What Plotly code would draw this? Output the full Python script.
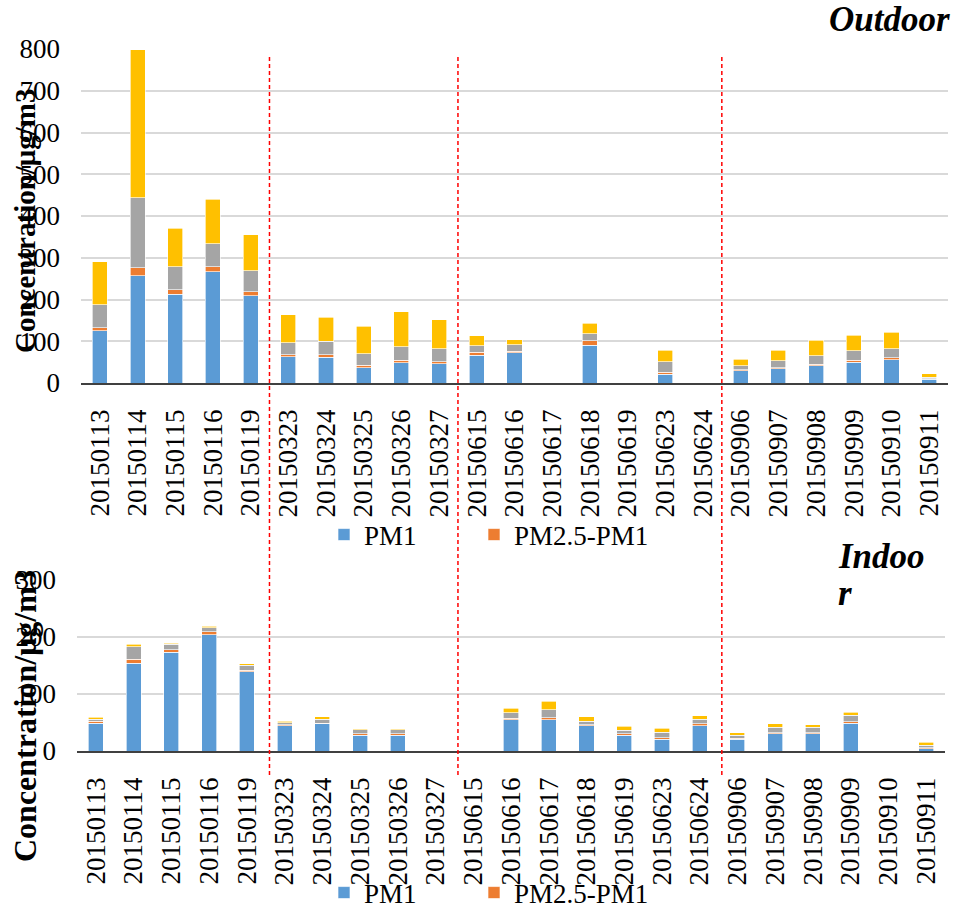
import plotly.graph_objects as go

# Sampling dates (category axis shared by both panels)
dates = ["20150113", "20150114", "20150115", "20150116", "20150119",
         "20150323", "20150324", "20150325", "20150326", "20150327",
         "20150615", "20150616", "20150617", "20150618", "20150619",
         "20150623", "20150624", "20150906", "20150907", "20150908",
         "20150909", "20150910", "20150911"]

# Outdoor size fractions, μg/m3 (None = no sample)
out_pm1 = [125, 257, 213, 266, 209, 63, 62, 36, 49, 46, 66, 72, None, 90, None,
           21, None, 29, 34, 41, 50, 56, 9]
out_pm25_pm1 = [7, 19, 10, 12, 9, 5, 6, 6, 5, 5, 8, 4, None, 11, None,
                5, None, 3, 3, 4, 4, 4, 1]
out_pm10_pm25 = [55, 168, 55, 55, 51, 28, 32, 28, 33, 31, 15, 16, None, 17, None,
                 25, None, 9, 16, 20, 23, 22, 4]
out_tsp_pm10 = [103, 354, 93, 107, 86, 67, 57, 66, 84, 70, 24, 12, None, 25, None,
                27, None, 16, 25, 37, 37, 40, 8]

# Indoor size fractions, μg/m3
in_pm1 = [49, 154, 173, 204, 139, 44, 47.5, 27.5, 28, None, None, 54.5, 54.5, 44,
          27.5, 20.5, 44.5, 20.5, 30, 30, 49, None, 4]
in_pm25_pm1 = [3, 7, 4.5, 5, 3, 2, 1.5, 3, 2, None, None, 3, 3.5, 2,
               3, 2.5, 3, 1.5, 2, 2, 2.5, None, 2]
in_pm10_pm25 = [4, 22, 10, 7, 8.5, 4, 7, 6.5, 7, None, None, 9.5, 14, 6,
                5.5, 10, 8.5, 5.5, 10, 9.5, 11.5, None, 4]
in_tsp_pm10 = [3, 4, 1.5, 2.5, 3, 2, 4, 2, 2, None, None, 8, 15, 8,
               7, 7, 6, 4.5, 6, 4.5, 5, None, 5]

# Campaign boundaries (between these category positions)
season_breaks = [4.5, 9.5, 16.5]

series_names = ["PM1", "PM2.5-PM1", "PM10-PM2.5", "TSP-PM10"]
series_colors = ["#5B9BD5", "#ED7D31", "#A5A5A5", "#FFC000"]

FONT = "Liberation Serif, Times New Roman, Tinos, DejaVu Serif, serif"
W, H = 955, 909

fig = go.Figure()

# each visible legend entry gets its own legend box so it can be placed freely
panels = [
    ([out_pm1, out_pm25_pm1, out_pm10_pm25, out_tsp_pm10], "x", "y",
     ["legend", "legend3", None, None]),
    ([in_pm1, in_pm25_pm1, in_pm10_pm25, in_tsp_pm10], "x2", "y2",
     ["legend2", "legend4", None, None]),
]
for values, xa, ya, legends in panels:
    for name, color, vals, lg in zip(series_names, series_colors, values, legends):
        fig.add_trace(go.Bar(
            x=dates, y=vals, name=name, xaxis=xa, yaxis=ya,
            legend=lg if lg else "legend",
            marker=dict(color=color, line=dict(color="rgba(255,255,255,0.8)", width=0.8)),
            showlegend=lg is not None,
        ))

axis_font = dict(family=FONT, size=27, color="black")
grid = dict(showgrid=True, gridcolor="#D9D9D9", gridwidth=1.5, zeroline=False,
            tickfont=axis_font, ticks="", ticklabelstandoff=20, automargin=False)
xcommon = dict(type="category", tickangle=-90, tickfont=axis_font, showgrid=False,
               showline=True, linecolor="#404040", linewidth=1.5, ticks="",
               ticklabelstandoff=14, automargin=False)
legend_common = dict(orientation="h", xanchor="left", yanchor="middle",
                     font=dict(family=FONT, size=27, color="black"),
                     bgcolor="rgba(0,0,0,0)", itemwidth=30)

fig.update_layout(
    width=W, height=H,
    margin=dict(l=0, r=0, t=0, b=0, autoexpand=False),
    paper_bgcolor="white", plot_bgcolor="white",
    barmode="stack", bargap=0.6,
    font=dict(family=FONT, color="black"),
    xaxis=dict(domain=[81 / W, 948 / W], anchor="y", **xcommon),
    yaxis=dict(domain=[1 - 383 / H, 1 - 49 / H], anchor="x", range=[0, 800],
               dtick=100, **grid),
    xaxis2=dict(domain=[77 / W, 945 / W], anchor="y2", **xcommon),
    yaxis2=dict(domain=[1 - 751 / H, 1 - 580 / H], anchor="x2", range=[0, 300],
                dtick=100, **grid),
    legend=dict(x=324 / W, y=1 - 535 / H, **legend_common),
    legend3=dict(x=474 / W, y=1 - 535 / H, **legend_common),
    legend2=dict(x=324 / W, y=1 - 893 / H, **legend_common),
    legend4=dict(x=474 / W, y=1 - 893 / H, **legend_common),
)

# Dashed separators between sampling campaigns, running through both panels
for b in season_breaks:
    fig.add_shape(type="line", xref="x", yref="paper", x0=b, x1=b,
                  y0=1 - 775 / H, y1=1 - 57 / H,
                  line=dict(color="#FF0000", width=1.5, dash="4px,3px"),
                  layer="above")

fig.add_annotation(text="<b>Concentration/μg/m3</b>", textangle=-90,
                   xref="paper", yref="paper", x=25 / W, y=1 - 221 / H,
                   xanchor="center", yanchor="middle", showarrow=False,
                   font=dict(family=FONT, size=29, color="black"))
fig.add_annotation(text="<b>Concentration/μg/m3</b>", textangle=-90,
                   xref="paper", yref="paper", x=25 / W, y=1 - 716 / H,
                   xanchor="center", yanchor="middle", showarrow=False,
                   font=dict(family=FONT, size=32, color="black"))

label_font = dict(family=FONT, size=35, color="black")
fig.add_annotation(text="<b><i>Outdoor</i></b>", xref="paper", yref="paper",
                   x=952 / W, y=1 - 20 / H, xanchor="right", yanchor="middle",
                   showarrow=False, font=label_font)
# the indoor label wraps onto a second line
fig.add_annotation(text="<b><i>Indoo</i></b>", xref="paper", yref="paper",
                   x=836 / W, y=1 - 556 / H, xanchor="left", yanchor="middle",
                   showarrow=False, font=label_font)
fig.add_annotation(text="<b><i>r</i></b>", xref="paper", yref="paper",
                   x=836 / W, y=1 - 593 / H, xanchor="left", yanchor="middle",
                   showarrow=False, font=label_font)

fig.write_html("out.html")
